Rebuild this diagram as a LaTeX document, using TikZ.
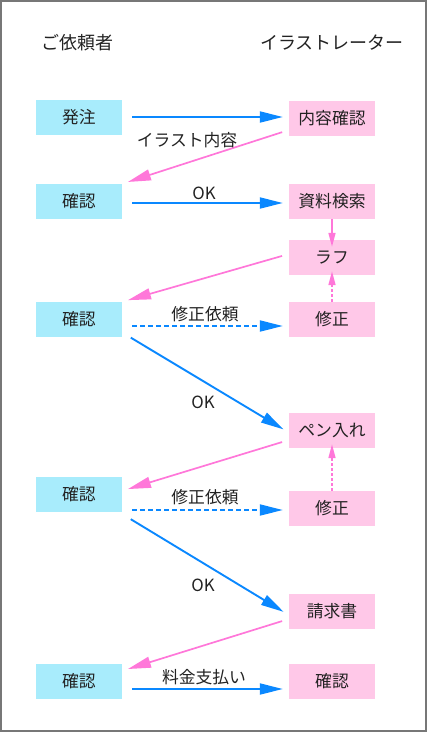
\documentclass[tikz,border=0pt]{standalone}
\usepackage{fontspec}
\setmainfont{Noto Sans CJK JP}
\usetikzlibrary{arrows.meta}
\definecolor{client}{HTML}{A8ECFC}
\definecolor{artist}{HTML}{FFC8E8}
\definecolor{request}{HTML}{0A88FF}
\definecolor{reply}{HTML}{FF77D9}
\definecolor{frame}{HTML}{777777}
\definecolor{ink}{HTML}{222222}

\begin{document}
\begin{tikzpicture}[x=1pt,y=-1pt,
  box/.style={minimum width=86pt,minimum height=35pt,inner sep=0pt,text=ink,font=\fontsize{16.8}{16.8}\selectfont},
  clientbox/.style={box,fill=client},
  artistbox/.style={box,fill=artist},
  toartist/.style={request,line width=1.9pt,shorten <=10pt,shorten >=6pt,-{Triangle[length=23pt,width=11pt]}},
  toclient/.style={reply,line width=1.7pt,shorten <=7pt,shorten >=6pt,-{Triangle[length=23pt,width=11pt]}},
  upstep/.style={reply,line width=1.6pt,-{Triangle[length=14pt,width=7pt]}},
  lab/.style={text=ink,font=\fontsize{16.8}{16.8}\selectfont},
  head/.style={text=ink,font=\fontsize{18}{18}\selectfont}]
  \useasboundingbox (0,0) rectangle (427,732);
  \draw[frame,line width=1.5pt] (1,1) rectangle (426,731);

  % Column heads
  \node[head] (hclient) at (77.5,43) {ご依頼者};
  \node[head] (hartist) at (332,43) {イラストレーター};

  % Client side
  \node[clientbox] (l1) at (79,117) {発注};
  \node[clientbox] (l2) at (79,201.5) {確認};
  \node[clientbox] (l3) at (79,319.5) {確認};
  \node[clientbox] (l4) at (79,494.5) {確認};
  \node[clientbox] (l5) at (79,681.5) {確認};

  % Illustrator side
  \node[artistbox] (r1) at (332,118) {内容確認};
  \node[artistbox] (r2) at (332,201.5) {資料検索};
  \node[artistbox] (r3) at (332,257.5) {ラフ};
  \node[artistbox] (r4) at (332,319.5) {修正};
  \node[artistbox] (r5) at (332,430.5) {ペン入れ};
  \node[artistbox] (r6) at (332,508.5) {修正};
  \node[artistbox] (r7) at (332,611.5) {請求書};
  \node[artistbox] (r8) at (332,681.5) {確認};

  % Client to illustrator
  \draw[toartist] (l1.east) -- (l1.east -| r1.west);
  \draw[toartist] ([yshift=-1.5pt]l2.east) -- ([yshift=-1.5pt]r2.west);
  \draw[toartist,dash pattern=on 5pt off 3pt] ([yshift=-6.5pt]l3.east) -- ([yshift=-6.5pt]r4.west);
  \draw[toartist] ([yshift=-13pt]l3.east) -- ([yshift=-2pt]r5.west);
  \draw[toartist,dash pattern=on 5pt off 3pt] ([yshift=-15.5pt]l4.east) -- ([yshift=-1.5pt]r6.west);
  \draw[toartist] ([yshift=-19.5pt]l4.east) -- ([yshift=-3.5pt]r7.west);
  \draw[toartist] ([yshift=-7.5pt]l5.east) -- ([yshift=-7.5pt]r8.west);

  % Illustrator to client
  \draw[toclient] ([yshift=-12pt]r1.west) -- (l2.north east);
  \draw[toclient] ([yshift=3.5pt]r3.west) -- (l3.north east);
  \draw[toclient] ([yshift=-9.5pt]r5.west) -- ([yshift=3.7pt]l4.east);
  \draw[toclient] ([yshift=-7.5pt]r7.west) -- ([yshift=10.7pt]l5.east);

  % Steps on the illustrator side
  \draw[upstep] (r2.south) -- ([yshift=-7pt]r3.north);
  \draw[upstep,dash pattern=on 3pt off 2pt] (r4.north) -- ([yshift=4pt]r3.south);
  \draw[upstep,dash pattern=on 3pt off 2pt] (r6.north) -- ([yshift=4pt]r5.south);

  % Labels
  \node[lab] (t1) at (187,140) {イラスト内容};
  \node[lab] (t2) at (204,193) {OK};
  \node[lab] (t3) at (205,314) {修正依頼};
  \node[lab] (t4) at (203,402) {OK};
  \node[lab] (t5) at (205,497) {修正依頼};
  \node[lab] (t6) at (203,585) {OK};
  \node[lab] (t7) at (204,677) {料金支払い};
\end{tikzpicture}
\end{document}
